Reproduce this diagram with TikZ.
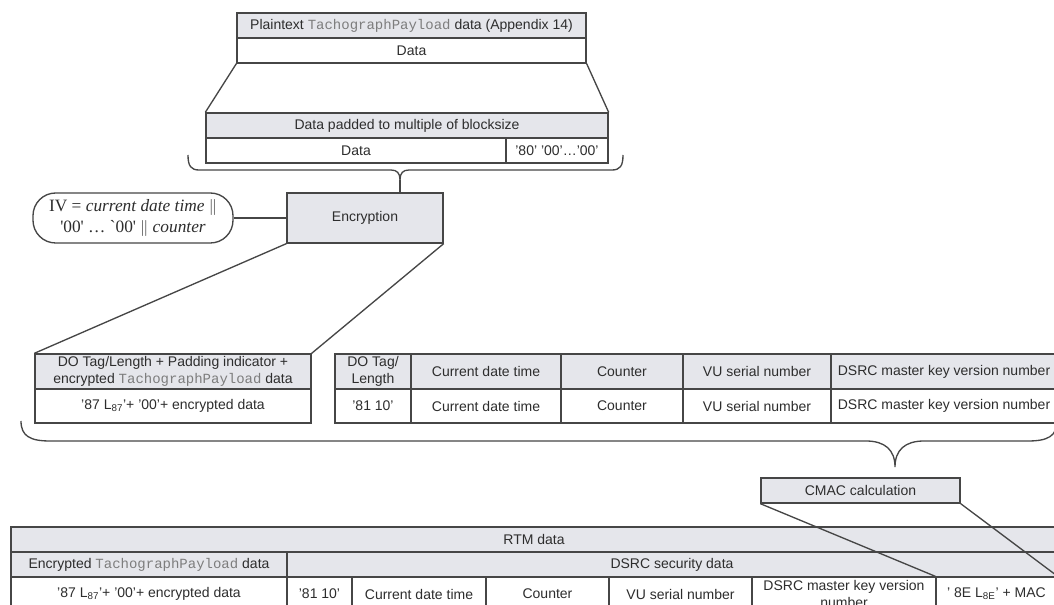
\documentclass[tikz,border=0pt]{standalone}
\usepackage{fontspec}
\setmainfont{Liberation Sans}
\newfontfamily\monof{Liberation Mono}
\newfontfamily\timesf{Liberation Serif}
\definecolor{hdr}{RGB}{229,230,235}
\definecolor{ln}{RGB}{70,70,70}
\definecolor{tx}{RGB}{45,45,45}
\definecolor{monoc}{RGB}{125,125,125}
\newcommand\tpl{{\monof\color{monoc}TachographPayload}}
\newcommand\cellat[7]{%
  \pgfmathsetmacro\mycw{(#4-#2)*0.75}%
  \pgfmathsetmacro\mych{(#5-#3)*0.75}%
  \node[#6, minimum width=\mycw pt, minimum height=\mych pt] (#1) at ({(#2+#4)/2},{(#3+#5)/2}) {#7};}
\tikzset{
  cell/.style={draw=ln, line width=1pt, inner sep=0pt, align=center, text=tx,
    font=\fontsize{10.5}{12.75}\selectfont},
  hcell/.style={cell, fill=hdr},
  wcell/.style={cell, fill=white},
  ivbox/.style={draw=ln, line width=1pt, rounded corners=17pt, inner sep=0pt, align=center,
    text=tx, fill=white, font=\timesf\fontsize{13}{15.75}\selectfont},
  conn/.style={draw=ln, line width=1pt},
}
\begin{document}
\begin{tikzpicture}[x=0.75pt, y=-0.75pt]
\useasboundingbox (0,0) rectangle (1054,605);
\clip (0,0) rectangle (1054,605);
\fill[white] (0,0) rectangle (1054,605);

% top: plaintext
\cellat{plainhead}{237}{13}{586}{38}{hcell}{Plaintext \tpl{} data (Appendix 14)}
\cellat{plaindata}{237}{38}{586}{63}{wcell}{Data}
% padded
\cellat{padhead}{206}{113}{608}{138}{hcell}{Data padded to multiple of blocksize}
\cellat{paddata}{206}{138}{506}{163}{wcell}{Data}
\cellat{padbytes}{506}{138}{608}{163}{wcell}{'80' '00'\dots'00'}
\draw[conn] (plaindata.south west) -- (padhead.north west);
\draw[conn] (plaindata.south east) -- (padhead.north east);

% brace 1
\coordinate (tip1) at (400,180);
\draw[conn] (188,155) .. controls (188,166) and (191,170) .. (199,170) -- (391,170)
  .. controls (397,170) and (400,173) .. (tip1)
  .. controls (400,173) and (403,170) .. (409,170) -- (612,170)
  .. controls (620,170) and (623,166) .. (623,155);

% encryption and IV
\cellat{enc}{287}{193}{443}{243}{hcell}{Encryption}
\cellat{iv}{33}{193}{233}{243}{ivbox}{IV = \textit{current date time} $\|$\\'00' \dots\ `00' $\|$ \textit{counter}}
\draw[conn] (tip1) -- (tip1 |- enc.north);
\draw[conn] (iv.east) -- (enc.west);

% left table
\cellat{lhead}{35}{354}{311}{389}{hcell}{DO Tag/Length + Padding indicator +\\encrypted \tpl{} data}
\cellat{lrow}{35}{389}{311}{423}{wcell}{'87 L\textsubscript{87}'+ '00'+ encrypted data}
\draw[conn] (enc.south west) -- (lhead.north west);
\draw[conn] (enc.south east) -- (lhead.north east);

% right table
\cellat{rh1}{335}{354}{411}{389}{hcell}{DO Tag/\\Length}
\cellat{rh2}{411}{354}{561}{389}{hcell}{Current date time}
\cellat{rh3}{561}{354}{683}{389}{hcell}{Counter}
\cellat{rh4}{683}{354}{831}{389}{hcell}{VU serial number}
\cellat{rh5}{831}{354}{1057}{389}{hcell}{DSRC master key version number}
\cellat{rr1}{335}{389}{411}{423}{wcell}{'81 10'}
\cellat{rr2}{411}{389}{561}{423}{wcell}{Current date time}
\cellat{rr3}{561}{389}{683}{423}{wcell}{Counter}
\cellat{rr4}{683}{389}{831}{423}{wcell}{VU serial number}
\cellat{rr5}{831}{389}{1057}{423}{wcell}{DSRC master key version number}

% brace 2
\coordinate (tip2) at (895,467);
\draw[conn] (21,421) .. controls (21,436) and (30,441) .. (50,441) -- (866,441)
  .. controls (885,441) and (895,450) .. (tip2)
  .. controls (895,450) and (905,441) .. (924,441) -- (1028,441)
  .. controls (1048,441) and (1057,436) .. (1057,421);

% CMAC
\cellat{cmac}{761}{478}{960}{503}{hcell}{CMAC calculation}

% bottom table
\cellat{rtm}{11}{527}{1057}{552}{hcell}{RTM data}
\cellat{bh1}{11}{552}{287}{577}{hcell}{Encrypted \tpl{} data}
\cellat{bh2}{287}{552}{1057}{577}{hcell}{DSRC security data}
\cellat{b1}{11}{577}{287}{611}{wcell}{'87 L\textsubscript{87}'+ '00'+ encrypted data}
\cellat{b2}{287}{577}{352}{611}{wcell}{'81 10'}
\cellat{b3}{352}{577}{486}{611}{wcell}{Current date time}
\cellat{b4}{486}{577}{609}{611}{wcell}{Counter}
\cellat{b5}{609}{577}{752}{611}{wcell}{VU serial number}
\cellat{b6}{752}{577}{936}{611}{wcell}{DSRC master key version\\number}
\cellat{b7}{936}{577}{1057}{611}{wcell}{' 8E L\textsubscript{8E}' + MAC}

\draw[conn] (cmac.south west) -- (b7.north west);
\draw[conn] (cmac.south east) -- (b7.north east);
\end{tikzpicture}
\end{document}
